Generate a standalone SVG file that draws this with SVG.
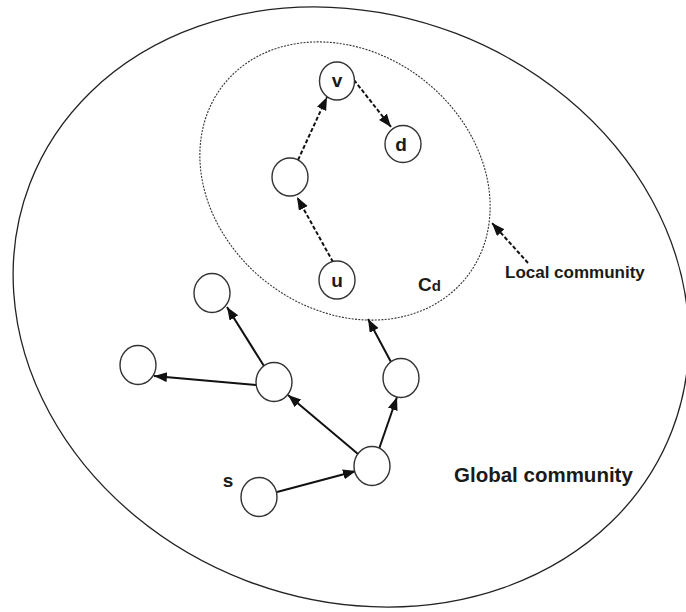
<svg xmlns="http://www.w3.org/2000/svg" width="686" height="612" viewBox="0 0 686 612">
  <style>
    .node { fill: #fff; stroke: #333; stroke-width: 1.4; }
    .lbl { font-family: "Liberation Sans", Arial, sans-serif; font-weight: bold; fill: #1a1a1a; }
    .edge { stroke: #111; stroke-width: 2; fill: none; marker-end: url(#arrow); }
    .dash { stroke-dasharray: 4 2.2; }
  </style>
  <defs>
    <marker id="arrow" markerUnits="userSpaceOnUse" markerWidth="14" markerHeight="12" refX="13" refY="5" orient="auto">
      <path d="M0,0 L13,5 L0,10 Z" fill="#111"/>
    </marker>
  </defs>
  <rect width="686" height="612" fill="#fff"/>

  <!-- community boundaries -->
  <g id="global-community">
    <ellipse cx="351" cy="307" rx="344" ry="293" transform="rotate(21 351 307)" fill="none" stroke="#222" stroke-width="1.3"/>
    <text class="lbl" x="454" y="482" font-size="20.5">Global community</text>
  </g>
  <g id="local-community">
    <ellipse cx="345" cy="181" rx="155" ry="128" transform="rotate(38.5 345 181)" fill="none" stroke="#333" stroke-width="1.1" stroke-dasharray="2 1.3"/>
    <text class="lbl" x="418" y="291" font-size="19">C<tspan font-size="15">d</tspan></text>
    <text class="lbl" x="505" y="278" font-size="17">Local community</text>
  </g>

  <!-- connectors -->
  <g id="connectors">
    <line class="edge" x1="277" y1="492" x2="356" y2="471"/>
    <line class="edge" x1="358" y1="454" x2="288" y2="395"/>
    <line class="edge" x1="379" y1="449" x2="397" y2="397"/>
    <line class="edge" x1="391" y1="362" x2="368" y2="319"/>
    <line class="edge" x1="264" y1="366" x2="227" y2="307"/>
    <line class="edge" x1="256" y1="385" x2="154" y2="376"/>
    <line class="edge dash" x1="333" y1="262" x2="297" y2="197"/>
    <line class="edge dash" x1="298" y1="160" x2="327" y2="97"/>
    <line class="edge dash" x1="354" y1="80" x2="391" y2="127"/>
    <line class="edge dash" x1="528" y1="263" x2="492" y2="223"/>
  </g>

  <!-- nodes -->
  <g id="node-v">
    <ellipse class="node" cx="337" cy="81" rx="17.5" ry="19"/>
    <text class="lbl" x="337" y="87" font-size="19" text-anchor="middle">v</text>
  </g>
  <g id="node-d">
    <ellipse class="node" cx="403" cy="144" rx="18" ry="18.5"/>
    <text class="lbl" x="401" y="151" font-size="19" text-anchor="middle">d</text>
  </g>
  <g id="node-mid">
    <ellipse class="node" cx="290" cy="177" rx="18" ry="19"/>
  </g>
  <g id="node-u">
    <ellipse class="node" cx="337" cy="280" rx="18" ry="19"/>
    <text class="lbl" x="337" y="287" font-size="19" text-anchor="middle">u</text>
  </g>
  <g id="node-a">
    <ellipse class="node" cx="212" cy="293" rx="18" ry="19.5"/>
  </g>
  <g id="node-b">
    <ellipse class="node" cx="138" cy="365" rx="18" ry="19.5"/>
  </g>
  <g id="node-c">
    <ellipse class="node" cx="274" cy="382" rx="18" ry="19.5"/>
  </g>
  <g id="node-e">
    <ellipse class="node" cx="401" cy="378" rx="18" ry="19.5"/>
  </g>
  <g id="node-f">
    <ellipse class="node" cx="372" cy="466" rx="18" ry="19.5"/>
  </g>
  <g id="node-s">
    <ellipse class="node" cx="259" cy="497" rx="18" ry="19.5"/>
    <text class="lbl" x="228" y="487" font-size="19" text-anchor="middle">s</text>
  </g>
</svg>
